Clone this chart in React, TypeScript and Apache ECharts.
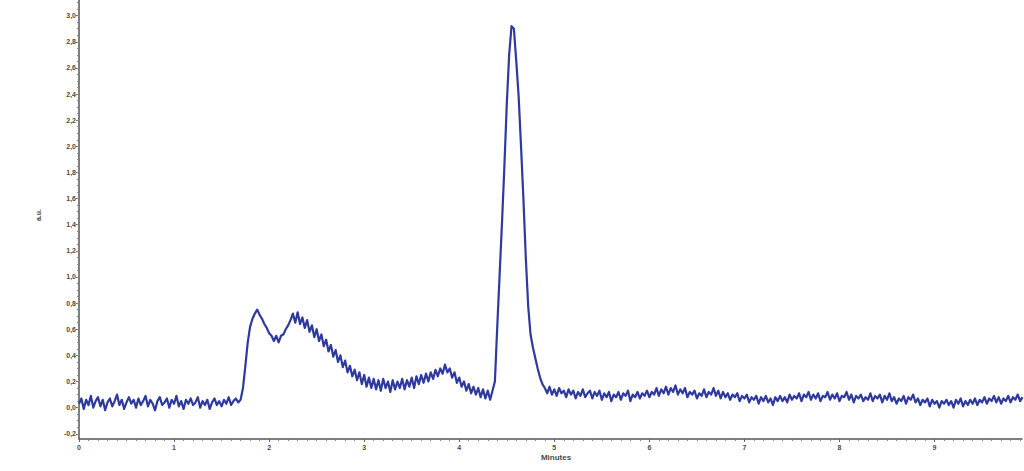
import React, { useEffect, useRef } from "react";
import * as echarts from "echarts";

const STEP = 0.025; // sampling interval, minutes

// baseline before the first elution, starting at 0.000 min
const baselineStart = 0;
const baselineValues = [
  0.03, 0.07, -0.01, 0.06, 0.02, 0.09, 0.0, 0.05, 0.08, 0.01,
  0.06, -0.02, 0.04, 0.07, 0.01, 0.05, 0.1, 0.02, 0.06, -0.01,
  0.04, 0.08, 0.03, 0.06, 0.0, 0.07, 0.02, 0.05, 0.09, 0.01,
  0.06, 0.03, -0.02, 0.05, 0.08, 0.02, 0.04, 0.07, 0.0, 0.06,
  0.03, 0.09, 0.01, 0.05, -0.01, 0.06, 0.03, 0.07, 0.02, 0.04,
  0.08, 0.0, 0.05, 0.02, 0.06, -0.01, 0.04, 0.07, 0.02, 0.05,
  0.01, 0.06, 0.03, 0.08, 0.02, 0.05, 0.07, 0.04, 0.06,
];

// double hump and small bump, starting at 1.725 min
const humpStart = 1.725;
const humpValues = [
  0.15, 0.32, 0.5, 0.62, 0.68, 0.72, 0.75, 0.71, 0.68, 0.64,
  0.61, 0.57, 0.55, 0.51, 0.55, 0.5, 0.55, 0.56, 0.6, 0.63,
  0.67, 0.72, 0.65, 0.73, 0.64, 0.69, 0.61, 0.67, 0.58, 0.63,
  0.54, 0.6, 0.51, 0.56, 0.47, 0.52, 0.43, 0.48, 0.39, 0.44,
  0.35, 0.4, 0.31, 0.36, 0.27, 0.32, 0.24, 0.29, 0.21, 0.27,
  0.18, 0.25, 0.16, 0.23, 0.15, 0.22, 0.14, 0.21, 0.13, 0.22,
  0.15, 0.2, 0.12, 0.21, 0.14, 0.2, 0.15, 0.22, 0.14, 0.21,
  0.16, 0.23, 0.15, 0.24, 0.18, 0.25, 0.19, 0.26, 0.2, 0.27,
  0.22, 0.29, 0.24, 0.3, 0.26, 0.33, 0.27, 0.3, 0.23, 0.27,
  0.19, 0.23, 0.16, 0.2, 0.13, 0.18, 0.11, 0.16, 0.1, 0.15,
  0.08, 0.14, 0.07, 0.13, 0.06, 0.13,
];

// main peak, starting at 4.375 min
const peakStart = 4.375;
const peakValues = [
  0.2, 0.62, 1.02, 1.42, 1.85, 2.32, 2.7, 2.92, 2.9, 2.65,
  2.38, 2.0, 1.6, 1.15, 0.78, 0.56, 0.46, 0.38, 0.3, 0.23, 0.18,
];

// tail baseline, starting at 4.900 min
const tailStart = 4.9;
const tailValues = [
  0.15, 0.11, 0.16, 0.1, 0.14, 0.09, 0.15, 0.11, 0.13, 0.08,
  0.14, 0.1, 0.13, 0.07, 0.12, 0.09, 0.14, 0.08, 0.11, 0.13,
  0.07, 0.12, 0.09, 0.13, 0.06, 0.11, 0.08, 0.12, 0.05, 0.1,
  0.08, 0.12, 0.06, 0.11, 0.09, 0.13, 0.05, 0.1, 0.08, 0.12,
  0.07, 0.11, 0.09, 0.13, 0.08, 0.12, 0.1, 0.15, 0.09, 0.14,
  0.11, 0.16, 0.1, 0.15, 0.12, 0.17, 0.1, 0.14, 0.11, 0.15,
  0.08, 0.12, 0.1, 0.13, 0.07, 0.11, 0.09, 0.14, 0.08, 0.12,
  0.1, 0.15, 0.09, 0.13, 0.07, 0.12, 0.08, 0.11, 0.06, 0.1,
  0.08, 0.11, 0.05, 0.09, 0.07, 0.1, 0.04, 0.08, 0.06, 0.09,
  0.03, 0.08, 0.05, 0.09, 0.04, 0.07, 0.02, 0.08, 0.05, 0.09,
  0.05, 0.08, 0.04, 0.1, 0.06, 0.09, 0.07, 0.11, 0.05, 0.1,
  0.08, 0.12, 0.06, 0.1, 0.07, 0.11, 0.05, 0.09, 0.08, 0.12,
  0.06, 0.1, 0.07, 0.11, 0.05, 0.09, 0.08, 0.12, 0.06, 0.1,
  0.04, 0.09, 0.07, 0.1, 0.05, 0.08, 0.06, 0.11, 0.05, 0.09,
  0.07, 0.1, 0.04, 0.09, 0.06, 0.11, 0.05, 0.08, 0.03, 0.07,
  0.05, 0.09, 0.03, 0.08, 0.06, 0.1, 0.04, 0.07, 0.02, 0.06,
  0.04, 0.07, 0.01, 0.06, 0.03, 0.05, 0.0, 0.05, 0.03, 0.06,
  0.02, 0.05, 0.0, 0.06, 0.03, 0.07, 0.01, 0.05, 0.02, 0.06,
  0.03, 0.07, 0.02, 0.06, 0.04, 0.08, 0.03, 0.07, 0.05, 0.09,
  0.04, 0.08, 0.03, 0.07, 0.05, 0.09, 0.04, 0.08, 0.06, 0.1,
  0.05, 0.08,
];

const yTickLabels = [-0.2, 0.0, 0.2, 0.4, 0.6, 0.8, 1.0, 1.2, 1.4, 1.6, 1.8, 2.0, 2.2, 2.4, 2.6, 2.8, 3.0];
const xTickLabels = [0, 1, 2, 3, 4, 5, 6, 7, 8, 9];

const X_MIN = 0;
const X_MAX = 9.92;
const Y_MIN = -0.24;
const Y_MAX = 3.12;

function segment(start: number, values: number[]): [number, number][] {
  return values.map((v, i) => [+(start + i * STEP).toFixed(3), v]);
}

export default function App() {
  const ref = useRef<HTMLDivElement>(null);

  useEffect(() => {
    if (!ref.current) return;
    const chart = echarts.init(ref.current, undefined, { renderer: "svg" });

    const data = [
      ...segment(baselineStart, baselineValues),
      ...segment(humpStart, humpValues),
      ...segment(peakStart, peakValues),
      ...segment(tailStart, tailValues),
    ];

    const minorY: number[] = [];
    for (let k = -4; k <= 62; k++) minorY.push(+(k * 0.05).toFixed(2));

    const labelStyle = {
      fontSize: 7,
      fontWeight: "bold" as const,
      color: "#4a4a4a",
      fontFamily: "Liberation Sans, Arial, sans-serif",
    };

    chart.setOption({
      animation: false,
      backgroundColor: "#ffffff",
      grid: { left: 79, right: 2, top: 0, bottom: 32, containLabel: false },
      xAxis: {
        type: "value",
        min: X_MIN,
        max: X_MAX,
        interval: 1,
        axisLine: { show: true, onZero: false, lineStyle: { color: "#555", width: 1.5 } },
        axisTick: { show: true, length: 3, customValues: xTickLabels, lineStyle: { color: "#666" } },
        minorTick: { show: true, splitNumber: 10, length: 2, lineStyle: { color: "#888" } },
        splitLine: { show: false },
        axisLabel: {
          ...labelStyle,
          margin: 5,
          customValues: xTickLabels,
          formatter: (v: number) => String(v),
        },
      },
      yAxis: [
        {
          type: "value",
          min: Y_MIN,
          max: Y_MAX,
          axisLine: { show: true, onZero: false, lineStyle: { color: "#555", width: 1.5 } },
          axisTick: { show: true, length: 3, customValues: yTickLabels, lineStyle: { color: "#666" } },
          splitLine: { show: false },
          axisLabel: {
            ...labelStyle,
            margin: 3,
            customValues: yTickLabels,
            formatter: (v: number) => v.toFixed(1).replace(".", ","),
          },
        },
        {
          type: "value",
          position: "left",
          min: Y_MIN,
          max: Y_MAX,
          axisLine: { show: false },
          axisTick: { show: true, length: 2, customValues: minorY, lineStyle: { color: "#888" } },
          axisLabel: { show: false },
          splitLine: { show: false },
        },
      ],
      graphic: [
        {
          type: "text",
          x: 38,
          y: 215,
          rotation: Math.PI / 2,
          style: {
            text: "a.u.",
            fontSize: 7,
            fontWeight: "bold",
            fill: "#4a4a4a",
            fontFamily: "Liberation Sans, Arial, sans-serif",
            align: "center",
            verticalAlign: "middle",
          },
        },
        {
          type: "text",
          x: 556,
          y: 457,
          style: {
            text: "Minutes",
            fontSize: 8,
            fontWeight: "bold",
            fill: "#4a4a4a",
            fontFamily: "Liberation Sans, Arial, sans-serif",
            align: "center",
            verticalAlign: "middle",
          },
        },
      ],
      series: [
        {
          type: "line",
          data,
          yAxisIndex: 0,
          showSymbol: false,
          symbol: "none",
          smooth: false,
          lineStyle: { color: "#2f3a9f", width: 2.2, join: "round" },
          z: 3,
        },
      ],
    });

    return () => chart.dispose();
  }, []);

  return (
    <div
      ref={ref}
      style={{ position: "fixed", left: 0, top: 0, width: 1024, height: 471, background: "#fff" }}
    />
  );
}
